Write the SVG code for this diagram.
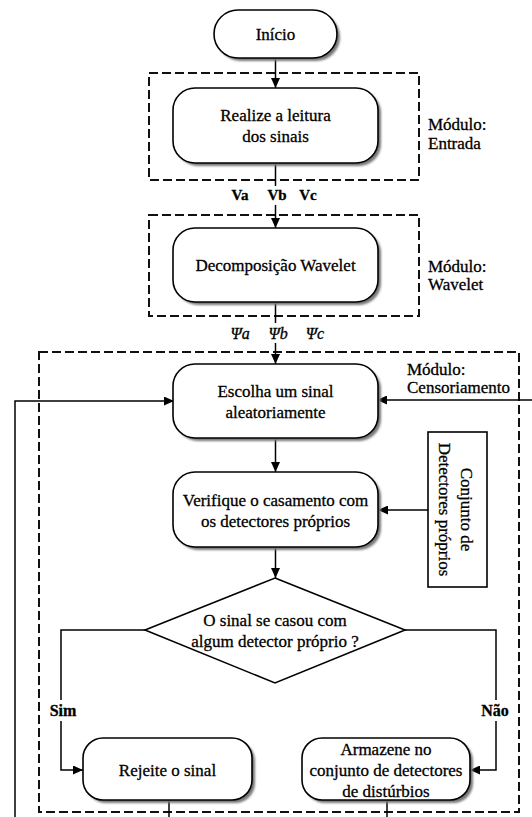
<svg xmlns="http://www.w3.org/2000/svg" width="532" height="817" viewBox="0 0 532 817">
<defs>
<style>
.box{fill:#fff;stroke:#000;stroke-width:1.6}
.sh{fill:#777;filter:url(#blur)}
.dash{fill:none;stroke:#111;stroke-width:2;stroke-dasharray:9 4}
.t{font-family:"Liberation Serif","Times New Roman",serif;font-size:17px;text-anchor:middle;fill:#000;stroke:#000;stroke-width:0.3}
.l{text-anchor:start}
.b{font-weight:bold;font-size:15px}
.psi{font-style:italic;font-size:16px}
.lbl{font-weight:bold;font-size:16px}
.conn{fill:none;stroke:#000;stroke-width:1.5}
</style>
<filter id="blur" x="-10%" y="-10%" width="120%" height="120%"><feGaussianBlur stdDeviation="1"/></filter>
<marker id="arr" markerUnits="userSpaceOnUse" markerWidth="10" markerHeight="9" refX="10" refY="4.5" orient="auto"><path d="M0,0 L10,4.5 L0,9 Z" fill="#000"/></marker>
</defs>
<rect width="532" height="817" fill="#fff"/>

<g id="modules">
<rect class="dash" x="149" y="73" width="270" height="107"/>
<rect class="dash" x="149" y="215" width="270" height="101"/>
<rect class="dash" x="39" y="352" width="480" height="460"/>
<text class="t l" x="428" y="130">Módulo:</text>
<text class="t l" x="428" y="149">Entrada</text>
<text class="t l" x="428" y="272">Módulo:</text>
<text class="t l" x="428" y="290">Wavelet</text>
<text class="t l" x="407" y="375">Módulo:</text>
<text class="t l" x="407" y="393">Censoriamento</text>
</g>

<g id="connectors">
<path class="conn" d="M275.5,58 V88" marker-end="url(#arr)"/>
<path class="conn" d="M275.5,163 V186"/>
<path class="conn" d="M275.5,205 V228" marker-end="url(#arr)"/>
<path class="conn" d="M275.5,302 V323"/>
<path class="conn" d="M275.5,343 V364" marker-end="url(#arr)"/>
<path class="conn" d="M275.5,438 V472" marker-end="url(#arr)"/>
<path class="conn" d="M275.5,547 V578" marker-end="url(#arr)"/>
<path class="conn" d="M428,510 H378" marker-end="url(#arr)"/>
<path class="conn" d="M145,630 H61 V700"/>
<path class="conn" d="M61,721 V770 H83" marker-end="url(#arr)"/>
<path class="conn" d="M405,630 H496 V700"/>
<path class="conn" d="M496,721 V770 H470" marker-end="url(#arr)"/>
<path class="conn" d="M15,817 V401 H174" marker-end="url(#arr)"/>
<path class="conn" d="M532,400 H377" marker-end="url(#arr)"/>
<path class="conn" d="M169,800 V817"/>
<path class="conn" d="M387,800 V817"/>
<text class="t b" x="240" y="200">Va</text>
<text class="t b" x="277" y="200">Vb</text>
<text class="t b" x="308" y="200">Vc</text>
<text class="t psi" x="240" y="339">Ψa</text>
<text class="t psi" x="278" y="339">Ψb</text>
<text class="t psi" x="315" y="339">Ψc</text>
<text class="t lbl" x="63" y="716">Sim</text>
<text class="t lbl" x="495" y="716">Não</text>
</g>

<g id="inicio">
<rect class="sh" x="217" y="13" width="123" height="48" rx="24"/>
<rect class="box" x="214" y="10" width="123" height="48" rx="24"/>
<text class="t" x="275.5" y="40">Início</text>
</g>

<g id="leitura">
<rect class="sh" x="176" y="91" width="205" height="75" rx="22"/>
<rect class="box" x="173" y="88" width="205" height="75" rx="22"/>
<text class="t" x="275.5" y="121">Realize a leitura</text>
<text class="t" x="275.5" y="142">dos sinais</text>
</g>

<g id="wavelet">
<rect class="sh" x="176" y="231" width="205" height="74" rx="22"/>
<rect class="box" x="173" y="228" width="205" height="74" rx="22"/>
<text class="t" x="275.5" y="271">Decomposição Wavelet</text>
</g>

<g id="escolha">
<rect class="sh" x="176" y="367" width="205" height="74" rx="22"/>
<rect class="box" x="173" y="364" width="205" height="74" rx="22"/>
<text class="t" x="275.5" y="397">Escolha um sinal</text>
<text class="t" x="275.5" y="418">aleatoriamente</text>
</g>

<g id="verifique">
<rect class="sh" x="176" y="475" width="205" height="75" rx="22"/>
<rect class="box" x="173" y="472" width="205" height="75" rx="22"/>
<text class="t" x="275.5" y="506">Verifique o casamento com</text>
<text class="t" x="275.5" y="527">os detectores próprios</text>
</g>

<g id="conjunto">
<rect class="box" x="428" y="432" width="59" height="155"/>
<g transform="translate(457.5,509.5) rotate(90)">
<text class="t" x="0" y="-3.5">Conjunto de</text>
<text class="t" x="0" y="18.5">Detectores próprios</text>
</g>
</g>

<g id="decisao">
<polygon class="box" points="275,578 405,630 275,683 145,630"/>
<text class="t" x="275" y="626">O sinal se casou com</text>
<text class="t" x="275" y="647">algum detector próprio ?</text>
</g>

<g id="rejeite">
<rect class="sh" x="86" y="741" width="169" height="62" rx="20"/>
<rect class="box" x="83" y="738" width="169" height="62" rx="20"/>
<text class="t" x="167.5" y="776">Rejeite o sinal</text>
</g>

<g id="armazene">
<rect class="sh" x="305" y="741" width="168" height="62" rx="20"/>
<rect class="box" x="302" y="738" width="168" height="62" rx="20"/>
<text class="t" x="386" y="755">Armazene no</text>
<text class="t" x="386" y="776">conjunto de detectores</text>
<text class="t" x="386" y="797">de distúrbios</text>
</g>
</svg>
